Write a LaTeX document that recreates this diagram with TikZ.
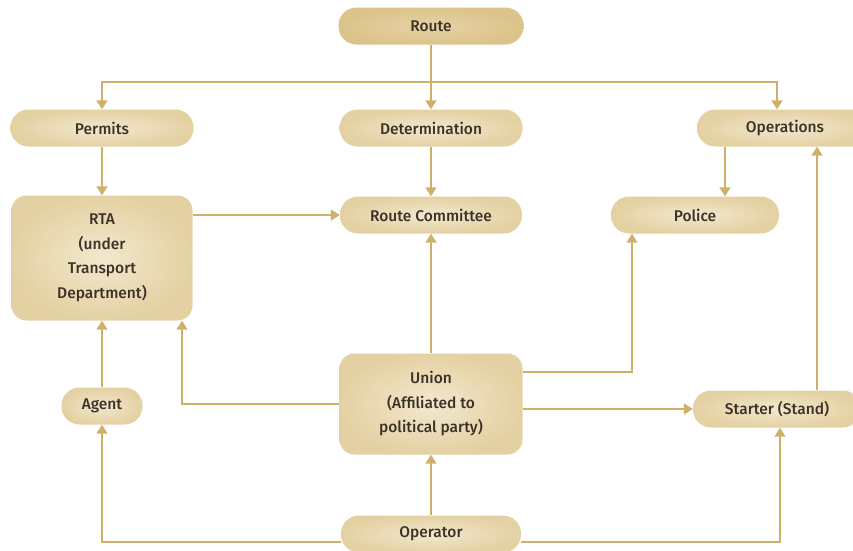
\documentclass[tikz,border=0pt]{standalone}
\usepackage{fontspec}
\setmainfont{Fira Sans}[UprightFont={* Medium}]
\usetikzlibrary{arrows.meta}
\definecolor{linegold}{HTML}{CFB06A}
\definecolor{boxfill}{HTML}{F3E8CE}
\definecolor{boxedge}{HTML}{E4D1A3}
\definecolor{routefill}{HTML}{DCC38A}
\definecolor{txt}{HTML}{3B3327}

\begin{document}
\begin{tikzpicture}[x=1pt,y=-1pt]
\tikzset{pill/.style={rounded corners=18pt, minimum height=37pt, inner color=boxfill, outer color=boxedge, text=txt, font=\fontsize{15.5}{24.5}\selectfont, align=center},
blok/.style={pill, rounded corners=15pt},
link/.style={draw=linegold, line width=1.6pt, -{Triangle[width=11pt,length=9pt]}}}
\useasboundingbox (0,0) rectangle (853,550);
\clip (0,0) rectangle (853,550);
\node[pill, minimum width=185pt, inner color=routefill!75!white, outer color=routefill] (Route) at (431,26) {Route};
\node[pill, minimum width=183pt] (Permits) at (102,128) {Permits};
\node[pill, minimum width=183pt] (Determination) at (431,128) {Determination};
\node[pill, minimum width=176pt] (Operations) at (785,128) {Operations};
\node[blok, minimum width=181pt, minimum height=125pt] (RTA) at (102,258) {RTA\\(under\\Transport\\Department)};
\node[pill, minimum width=182pt] (RouteCommittee) at (431,215) {Route Committee};
\node[pill, minimum width=168pt] (Police) at (695,215) {Police};
\node[pill, minimum width=81pt] (Agent) at (102,406) {Agent};
\node[blok, minimum width=183pt, minimum height=101pt] (Union) at (431,404) {Union\\(Affiliated to\\political party)};
\node[pill, minimum width=168pt] (Starter) at (777,409) {Starter (Stand)};
\node[pill, minimum width=180pt] (Operator) at (431,534) {Operator};
\coordinate (bus) at (431,82);
\draw[draw=linegold, line width=1.6pt] (Route.south) -- (bus);
\draw[link] (bus) -- (Determination.north);
\draw[link] (bus) -| (Permits.north);
\draw[link] (bus) -| ([xshift=-8pt]Operations.north);
\draw[link] (Permits.south) -- (RTA.north);
\draw[link] (Determination.south) -- (RouteCommittee.north);
\draw[link] ([xshift=-60pt]Operations.south) -- ([xshift=-60pt]Operations.south |- Police.north);
\draw[link] (RTA.east |- RouteCommittee.west) -- (RouteCommittee.west);
\draw[link] (Union.north) -- (RouteCommittee.south);
\draw[link] ([yshift=32pt]Union.east) -| ([xshift=-63pt]Police.south);
\draw[link] (Union.east |- Starter.west) -- (Starter.west);
\draw[link] (Union.west) -| ([xshift=80pt]RTA.south);
\draw[link] ([xshift=40pt]Starter.north) -- ([xshift=40pt]Starter.north |- Operations.south);
\draw[link] (Agent.north) -- (RTA.south);
\draw[link] (Operator.north) -- (Union.south);
\draw[link] ([yshift=-8pt]Operator.west) -| (Agent.south);
\draw[link] ([yshift=-8pt]Operator.east) -| ([xshift=3pt]Starter.south);
\end{tikzpicture}
\end{document}
